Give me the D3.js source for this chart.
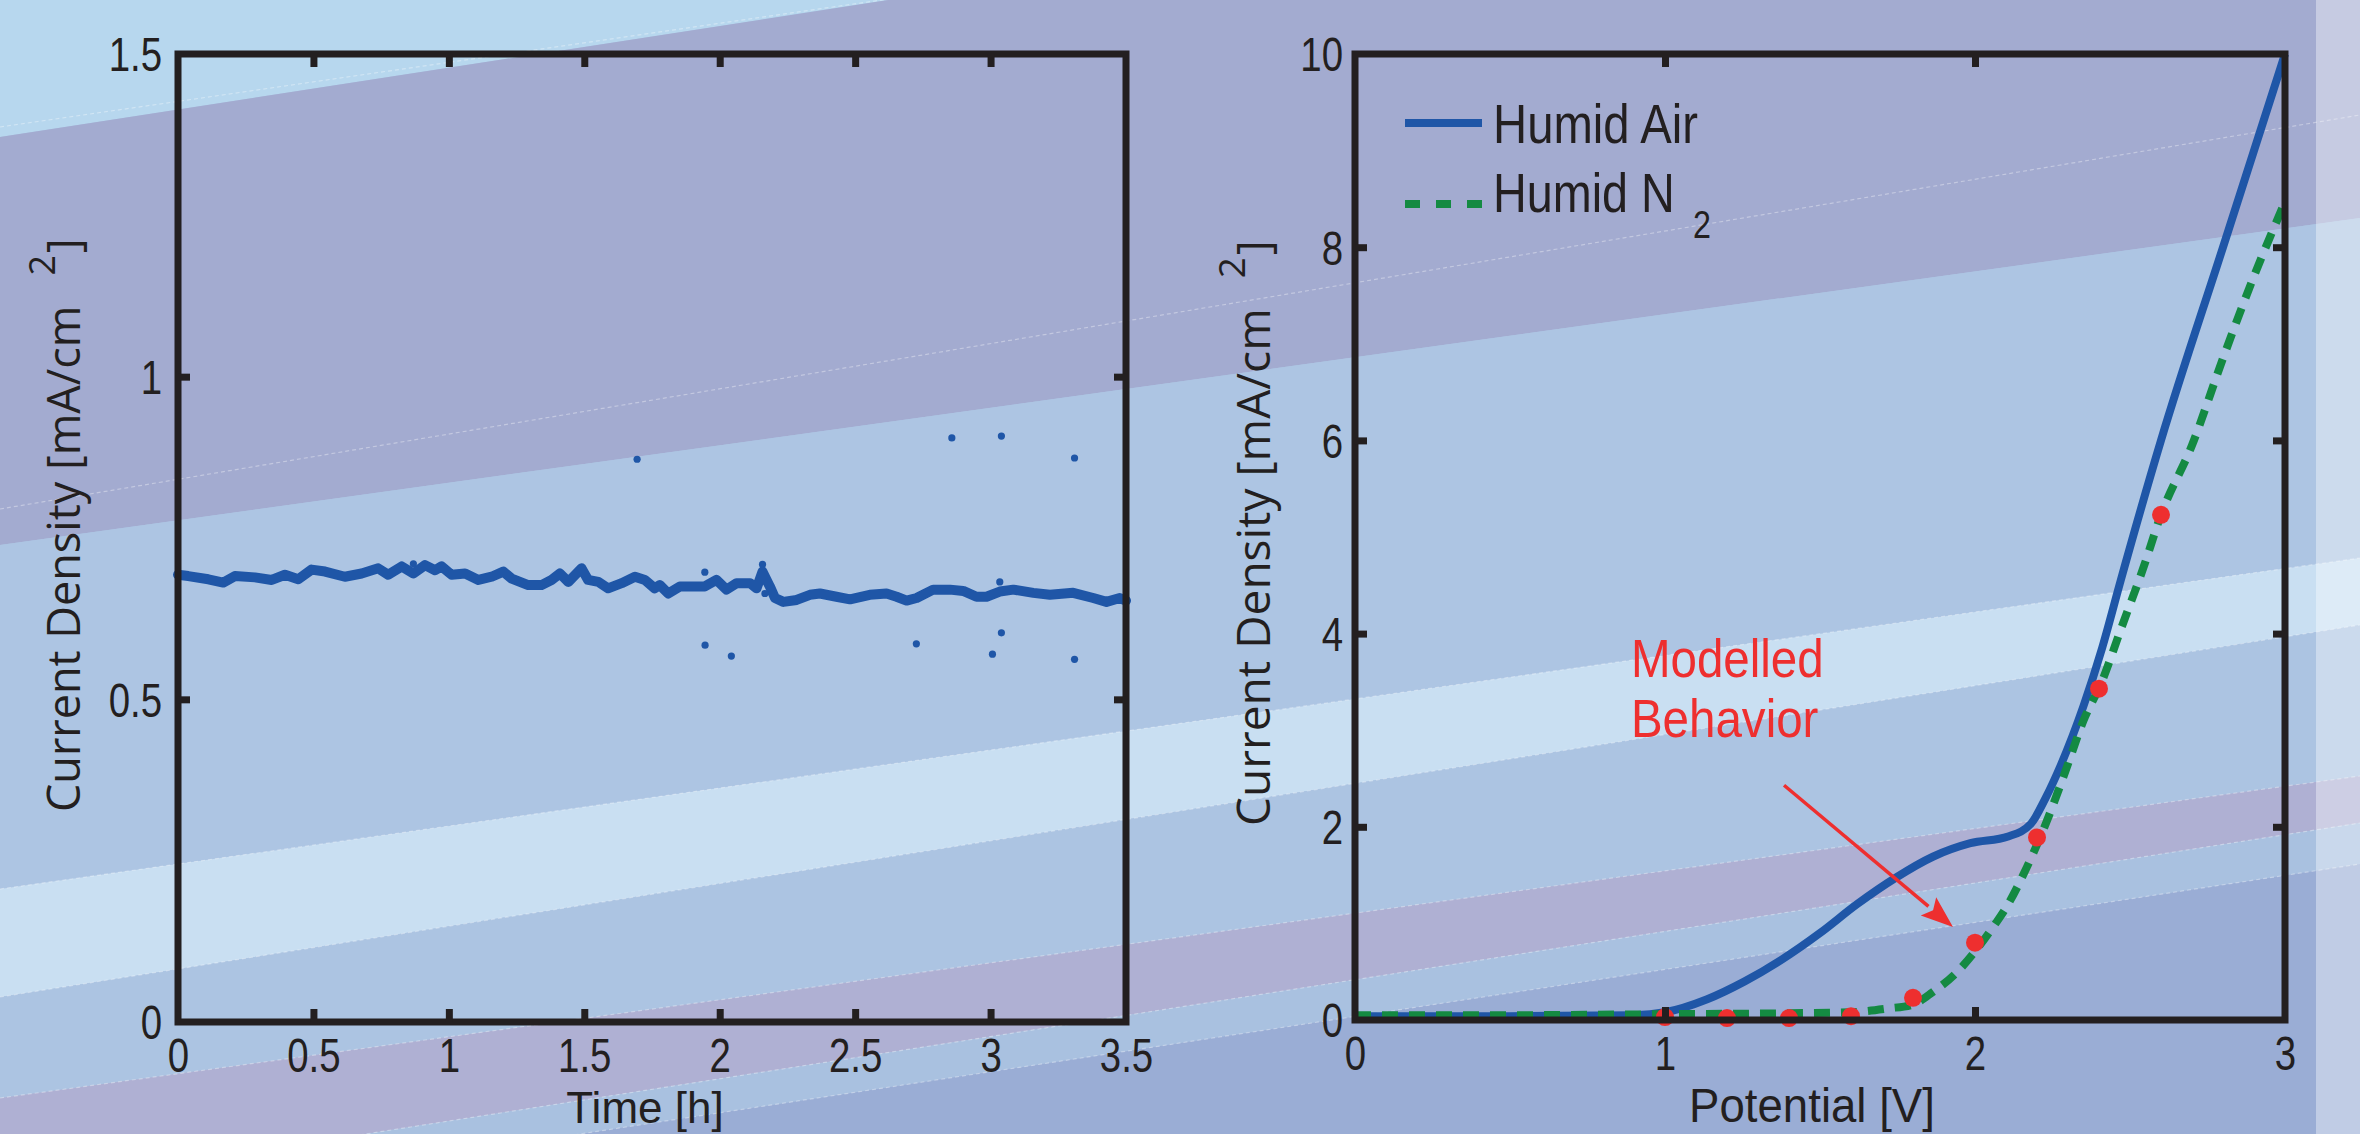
<!DOCTYPE html>
<html>
<head>
<meta charset="utf-8">
<script src="https://cdn.jsdelivr.net/npm/d3@7"></script>
<style>
  html, body { margin: 0; padding: 0; background: #adc5e3; }
  svg { display: block; }
</style>
</head>
<body>
<svg id="fig" width="2360" height="1134"></svg>
<script>
// ---------- data ----------
// Stability test: current density vs time
const timeH = [0.000, 0.038, 0.112, 0.167, 0.210, 0.284, 0.346, 0.395, 0.444, 0.493,
  0.543, 0.616, 0.678, 0.739, 0.776, 0.826, 0.869, 0.912, 0.949, 0.973,
  1.010, 1.060, 1.109, 1.158, 1.201, 1.232, 1.293, 1.342, 1.379, 1.410,
  1.441, 1.490, 1.514, 1.552, 1.588, 1.638, 1.687, 1.724, 1.760, 1.779,
  1.810, 1.853, 1.902, 1.945, 1.988, 2.025, 2.062, 2.112, 2.136, 2.158,
  2.173, 2.185, 2.204, 2.235, 2.284, 2.333, 2.370, 2.431, 2.481, 2.554,
  2.616, 2.653, 2.690, 2.727, 2.788, 2.850, 2.899, 2.948, 2.985, 3.034,
  3.084, 3.158, 3.219, 3.305, 3.379, 3.428, 3.477, 3.500];
const stabilityJ = [0.693, 0.691, 0.686, 0.681, 0.691, 0.689, 0.685, 0.693, 0.686, 0.701,
  0.698, 0.690, 0.695, 0.703, 0.693, 0.706, 0.695, 0.708, 0.700, 0.706,
  0.693, 0.695, 0.685, 0.690, 0.698, 0.687, 0.677, 0.677, 0.685, 0.695,
  0.682, 0.703, 0.685, 0.682, 0.672, 0.680, 0.690, 0.685, 0.672, 0.677,
  0.664, 0.675, 0.675, 0.675, 0.685, 0.670, 0.680, 0.680, 0.672, 0.698,
  0.685, 0.675, 0.657, 0.651, 0.654, 0.662, 0.664, 0.659, 0.655, 0.662,
  0.664, 0.659, 0.653, 0.657, 0.670, 0.670, 0.668, 0.659, 0.659, 0.667,
  0.670, 0.665, 0.662, 0.665, 0.657, 0.651, 0.657, 0.653];
// isolated samples away from the main trace
const strayT = [0.869, 1.945, 2.158, 2.167, 3.034, 1.695, 2.857, 3.040, 3.310,
  1.946, 2.043, 2.726, 3.007, 3.040, 3.310];
const strayJ = [0.710, 0.697, 0.709, 0.664, 0.682, 0.872, 0.905, 0.908, 0.874,
  0.584, 0.567, 0.586, 0.570, 0.603, 0.562];

// Polarisation curves: current density vs potential
const airV = [0, 0.5, 0.9, 1.0, 1.136, 1.257, 1.379, 1.5, 1.62, 1.743, 1.864, 1.985,
  2.107, 2.18, 2.228, 2.277, 2.35, 2.41, 2.47, 2.6, 2.8, 3.0];
const airJ = [0.04, 0.04, 0.05, 0.08, 0.215, 0.40, 0.63, 0.90, 1.20, 1.47, 1.69, 1.83,
  1.90, 2.03, 2.30, 2.64, 3.25, 3.85, 4.55, 6.0, 8.0, 10.0];
const n2V = [0, 0.5, 1.0, 1.4, 1.597, 1.72, 1.80, 1.864, 1.937, 2.0, 2.06, 2.107,
  2.167, 2.228, 2.29, 2.35, 2.41, 2.47, 2.544, 2.6, 2.7, 2.8, 2.9, 3.0];
const n2J = [0.05, 0.05, 0.06, 0.07, 0.08, 0.12, 0.16, 0.29, 0.48, 0.71, 0.97, 1.20,
  1.58, 2.03, 2.56, 3.10, 3.51, 4.04, 4.69, 5.23, 5.95, 6.85, 7.7, 8.47];
const modelV = [1.0, 1.2, 1.4, 1.6, 1.8, 2.0, 2.2, 2.4, 2.6];
const modelJ = [0.03, 0.02, 0.02, 0.04, 0.23, 0.80, 1.89, 3.43, 5.23];

// tick values and labels
const timeTicks = [0, 0.5, 1, 1.5, 2, 2.5, 3, 3.5];
const timeTickLabels = ["0", "0.5", "1", "1.5", "2", "2.5", "3", "3.5"];
const leftJTicks = [0, 0.5, 1, 1.5];
const leftJTickLabels = ["0", "0.5", "1", "1.5"];
const potentialTicks = [0, 1, 2, 3];
const rightJTicks = [0, 2, 4, 6, 8, 10];
const seriesNames = ["Humid Air", "Humid N"];
const annotationLines = ["Modelled", "Behavior"];
// annotation arrow, in data units (V, mA/cm2)
const arrowFrom = [1.384, 2.43];
const arrowTo = [1.929, 0.963];

// ---------- styling ----------
const INK = "#231f20";
const BLUE = "#1f56a7";
const GREEN = "#148a42";
const RED = "#ee2f2f";
const NARROW = "'Liberation Sans', Arial, sans-serif";
const ROUND = "'Open Sans', 'DejaVu Sans', sans-serif";
const TICK_SIZE = 48, TICK_SX = 0.8;
const W = 2360, H = 1134;

const svg = d3.select("#fig");

// ---------- slide background: slanted colour bands ----------
const bandEdges = [[-500, -500], [137, -227], [545, 218], [889, 558], [997, 625],
  [1098, 776], [1191, 823], [1222, 864], [1600, 1600]];
const bandFills = ["#b7d7ee", "#a3abd0", "#adc5e3", "#c9dff2", "#acc4e2",
  "#afb0d3", "#a9c1e0", "#9aadd5"];
const bg = svg.append("g");
bandFills.forEach((c, i) => {
  const a = bandEdges[i], b = bandEdges[i + 1];
  bg.append("polygon")
    .attr("points", `0,${a[0]} ${W},${a[1]} ${W},${b[1]} 0,${b[0]}`)
    .attr("fill", c);
});
// faint highlight seams between bands
[[127, -213], [509, 115], [889, 558], [997, 625], [1098, 776], [1191, 823], [1222, 864]]
  .forEach(e => {
    bg.append("line").attr("x1", 0).attr("y1", e[0]).attr("x2", W).attr("y2", e[1])
      .attr("stroke", "#ffffff").attr("stroke-opacity", 0.35)
      .attr("stroke-width", 1.2).attr("stroke-dasharray", "4 3");
  });
// pale vertical strip on the right edge
bg.append("rect").attr("x", 2316).attr("y", 0).attr("width", W - 2316).attr("height", H)
  .attr("fill", "#ffffff").attr("fill-opacity", 0.38);

// ---------- helpers ----------
function frame(g, x, y) {
  const [x0, x1] = x.range(), [y0, y1] = y.range();
  g.append("rect")
    .attr("x", x0).attr("y", y1).attr("width", x1 - x0).attr("height", y0 - y1)
    .attr("fill", "none").attr("stroke", INK).attr("stroke-width", 7);
}
function innerTicks(g, axisGen, translate) {
  const a = g.append("g").attr("transform", translate).call(axisGen);
  a.select(".domain").remove();
  a.selectAll("line").attr("stroke", INK).attr("stroke-width", 7);
  a.selectAll("text").remove();
}
function labelsBottom(g, x, y0, values, labels) {
  const a = g.append("g").attr("transform", `translate(0,${y0})`)
    .call(d3.axisBottom(x).tickValues(values).tickSize(0).tickPadding(0)
      .tickFormat((d, i) => labels[i]));
  a.select(".domain").remove();
  a.selectAll("text")
    .attr("y", 50).attr("dy", null)
    .attr("font-family", NARROW).attr("font-size", TICK_SIZE).attr("fill", INK)
    .attr("transform", `scale(${TICK_SX},1)`);
}
function labelsLeft(g, y, x0, values, labels, gap) {
  const a = g.append("g").attr("transform", `translate(${x0},0)`)
    .call(d3.axisLeft(y).tickValues(values).tickSize(0).tickPadding(0)
      .tickFormat((d, i) => labels[i]));
  a.select(".domain").remove();
  a.selectAll("text")
    .attr("x", -gap / TICK_SX).attr("dy", "0.35em")
    .attr("font-family", NARROW).attr("font-size", TICK_SIZE).attr("fill", INK)
    .attr("transform", `scale(${TICK_SX},1)`);
}
function yTitle(g, bx, startY, size) {
  const t = g.append("text")
    .attr("transform", `translate(${bx},${startY}) rotate(-90)`)
    .attr("font-family", ROUND).attr("font-size", size).attr("fill", INK);
  t.append("tspan").text("Current Density [mA/cm");
  t.append("tspan").attr("dx", 30).attr("dy", -25).attr("font-size", size * 0.8).text("2");
  t.append("tspan").attr("dx", 2).attr("dy", 25).text("]");
}
function narrowText(g, x, y, str, size, sx, anchor, fill) {
  return g.append("text")
    .attr("transform", `translate(${x},${y}) scale(${sx},1)`)
    .attr("text-anchor", anchor || "start")
    .attr("font-family", NARROW).attr("font-size", size)
    .attr("fill", fill || INK).text(str);
}

// ---------- left panel: stability ----------
const xT = d3.scaleLinear().domain([0, 3.5]).range([178, 1126]);
const yL = d3.scaleLinear().domain([0, 1.5]).range([1022, 54]);
const gL = svg.append("g");

gL.append("path")
  .datum(timeH.map((t, i) => [t, stabilityJ[i]]))
  .attr("fill", "none").attr("stroke", BLUE).attr("stroke-width", 10)
  .attr("stroke-linejoin", "round").attr("stroke-linecap", "round")
  .attr("d", d3.line().x(d => xT(d[0])).y(d => yL(d[1])));
gL.selectAll("circle.stray")
  .data(strayT.map((t, i) => [t, strayJ[i]]))
  .join("circle").attr("class", "stray")
  .attr("cx", d => xT(d[0])).attr("cy", d => yL(d[1])).attr("r", 3.6)
  .attr("fill", BLUE);

frame(gL, xT, yL);
innerTicks(gL, d3.axisBottom(xT).tickValues(timeTicks.slice(1, -1)).tickSize(-13), `translate(0,${yL(0)})`);
innerTicks(gL, d3.axisTop(xT).tickValues(timeTicks.slice(1, -1)).tickSize(-13), `translate(0,${yL(1.5)})`);
innerTicks(gL, d3.axisLeft(yL).tickValues(leftJTicks.slice(1, -1)).tickSize(-12), `translate(${xT(0)},0)`);
innerTicks(gL, d3.axisRight(yL).tickValues(leftJTicks.slice(1, -1)).tickSize(-12), `translate(${xT(3.5)},0)`);
labelsBottom(gL, xT, yL(0), timeTicks, timeTickLabels);
labelsLeft(gL, yL, xT(0), leftJTicks, leftJTickLabels, 16);
narrowText(gL, 645, 1123, "Time [h]", 44, 1.0, "middle");
yTitle(gL, 80, 812, 45);

// ---------- right panel: polarisation ----------
const xV = d3.scaleLinear().domain([0, 3]).range([1355, 2285]);
const yR = d3.scaleLinear().domain([0, 10]).range([1020, 54]);
const gR = svg.append("g");
const lineVJ = d3.line().curve(d3.curveMonotoneX).x(d => xV(d[0])).y(d => yR(d[1]));

gR.append("path")
  .datum(airV.map((v, i) => [v, airJ[i]]))
  .attr("fill", "none").attr("stroke", BLUE).attr("stroke-width", 8)
  .attr("stroke-linejoin", "round").attr("d", lineVJ);
gR.append("path")
  .datum(n2V.map((v, i) => [v, n2J[i]]))
  .attr("fill", "none").attr("stroke", GREEN).attr("stroke-width", 8)
  .attr("stroke-dasharray", "16 11").attr("d", lineVJ);
gR.selectAll("circle.model")
  .data(modelV.map((v, i) => [v, modelJ[i]]))
  .join("circle").attr("class", "model")
  .attr("cx", d => xV(d[0])).attr("cy", d => yR(d[1])).attr("r", 9)
  .attr("fill", RED);

frame(gR, xV, yR);
innerTicks(gR, d3.axisBottom(xV).tickValues(potentialTicks.slice(1, -1)).tickSize(-13), `translate(0,${yR(0)})`);
innerTicks(gR, d3.axisTop(xV).tickValues(potentialTicks.slice(1, -1)).tickSize(-13), `translate(0,${yR(10)})`);
innerTicks(gR, d3.axisLeft(yR).tickValues(rightJTicks.slice(1, -1)).tickSize(-12), `translate(${xV(0)},0)`);
innerTicks(gR, d3.axisRight(yR).tickValues(rightJTicks.slice(1, -1)).tickSize(-12), `translate(${xV(3)},0)`);
labelsBottom(gR, xV, yR(0), potentialTicks, potentialTicks.map(String));
labelsLeft(gR, yR, xV(0), rightJTicks, rightJTicks.map(String), 12);
narrowText(gR, 1812, 1122, "Potential [V]", 48, 0.95, "middle");
yTitle(gR, 1270, 826, 46);

// legend
const lg = gR.append("g");
lg.append("line").attr("x1", 1405).attr("x2", 1482).attr("y1", 123).attr("y2", 123)
  .attr("stroke", BLUE).attr("stroke-width", 8);
lg.append("line").attr("x1", 1405).attr("x2", 1482).attr("y1", 204).attr("y2", 204)
  .attr("stroke", GREEN).attr("stroke-width", 8).attr("stroke-dasharray", "15 16");
narrowText(lg, 1493, 143, seriesNames[0], 55, 0.86);
narrowText(lg, 1493, 212, seriesNames[1], 55, 0.85);
narrowText(lg, 1693, 238, "2", 38, 0.85);

// annotation
narrowText(gR, xV(0.89), yR(3.55), annotationLines[0], 54, 0.88, "start", RED);
narrowText(gR, xV(0.89), yR(2.93), annotationLines[1], 54, 0.88, "start", RED);
const ax0 = xV(arrowFrom[0]), ay0 = yR(arrowFrom[1]);
const ax1 = xV(arrowTo[0]), ay1 = yR(arrowTo[1]);
const ang = Math.atan2(ay1 - ay0, ax1 - ax0);
const headL = 32, headW = 12;
const bx = ax1 - headL * Math.cos(ang), by = ay1 - headL * Math.sin(ang);
gR.append("line").attr("x1", ax0).attr("y1", ay0)
  .attr("x2", bx).attr("y2", by)
  .attr("stroke", RED).attr("stroke-width", 3.5);
gR.append("polygon")
  .attr("points", [
    [ax1, ay1],
    [bx + headW * Math.sin(ang), by - headW * Math.cos(ang)],
    [bx + 6 * Math.cos(ang), by + 6 * Math.sin(ang)],
    [bx - headW * Math.sin(ang), by + headW * Math.cos(ang)]
  ].map(p => p.join(",")).join(" "))
  .attr("fill", RED);
</script>
</body>
</html>
